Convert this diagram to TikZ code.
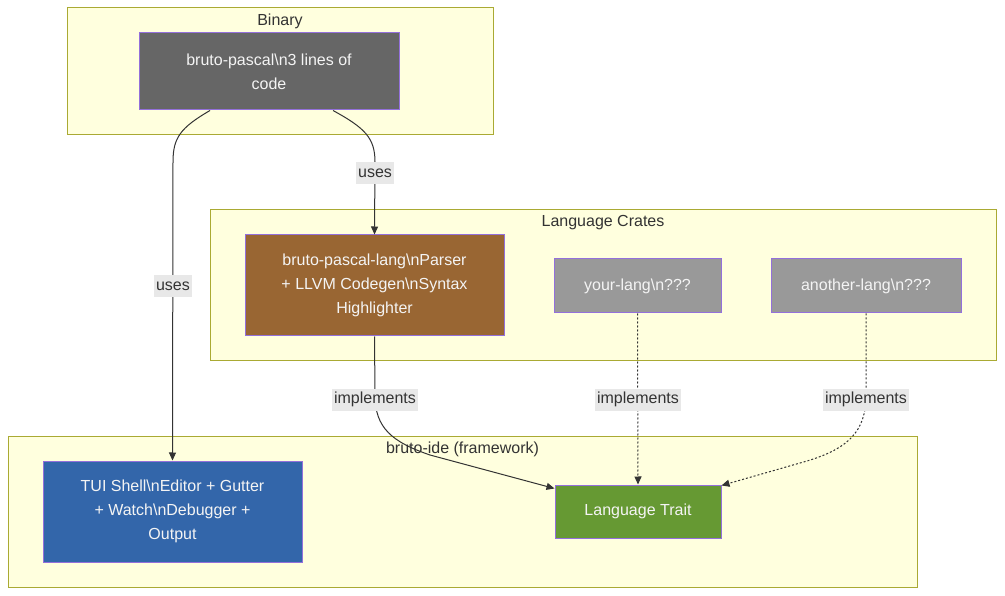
\documentclass[tikz,border=0pt]{standalone}
\usepackage{fontspec}
\setmainfont{Liberation Sans}
\usetikzlibrary{arrows.meta}
\definecolor{clfill}{HTML}{FFFFDE}
\definecolor{clline}{HTML}{AAAA33}
\definecolor{ndline}{HTML}{9370DB}
\definecolor{txt}{HTML}{333333}
\definecolor{lblbg}{HTML}{E8E8E8}
\definecolor{cbin}{HTML}{666666}
\definecolor{clang}{HTML}{996633}
\definecolor{cgrey}{HTML}{999999}
\definecolor{cblue}{HTML}{3366AA}
\definecolor{cgreen}{HTML}{669933}
\definecolor{ntxt}{HTML}{F4F4F4}
\begin{document}
\begin{tikzpicture}[x=1pt,y=-1pt,
  every node/.style={font=\fontsize{16}{24}\selectfont},
  cluster/.style={draw=clline, fill=clfill, line width=1pt, inner sep=0pt},
  clabel/.style={text=txt, inner sep=0pt},
  box/.style={draw=ndline, line width=1pt, text=ntxt, align=center, inner sep=0pt},
  elabel/.style={fill=lblbg, text=txt, inner sep=2pt, minimum height=22pt},
  edge/.style={draw=txt, line width=1pt, -{Triangle[length=8pt,width=7pt]}},
  dedge/.style={edge, dash pattern=on 2pt off 2pt}
]
\fill[white] (0,0) rectangle (1005,596);
\useasboundingbox (0,0) rectangle (1005,596);

% clusters
\node[cluster, minimum width=426pt, minimum height=127pt] (binary) at (280,71.5) {};
\node[clabel] (binlbl) at (280,21) {Binary};
\node[cluster, minimum width=786pt, minimum height=151pt] (crates) at (603,285.5) {};
\node[clabel] (crlbl) at (603,223) {Language Crates};
\node[cluster, minimum width=909pt, minimum height=151pt] (ide) at (462.5,511.5) {};
\node[clabel] (idelbl) at (462.5,449) {bruto-ide (framework)};

% nodes
\node[box, fill=cbin, minimum width=260pt, minimum height=77pt] (bp) at (269,71.5)
  {bruto-pascal\textbackslash n3 lines of\\code};
\node[box, fill=clang, minimum width=259pt, minimum height=101pt] (lang) at (374.5,285.5)
  {bruto-pascal-lang\textbackslash nParser\\+ LLVM Codegen\textbackslash nSyntax\\Highlighter};
\node[box, fill=cgrey, minimum width=167pt, minimum height=54pt] (yl) at (637.5,286)
  {your-lang\textbackslash n???};
\node[box, fill=cgrey, minimum width=190pt, minimum height=54pt] (al) at (866,286)
  {another-lang\textbackslash n???};
\node[box, fill=cblue, minimum width=259pt, minimum height=101pt] (tui) at (172.5,511.5)
  {TUI Shell\textbackslash nEditor + Gutter\\+ Watch\textbackslash nDebugger +\\Output};
\node[box, fill=cgreen, minimum width=166pt, minimum height=53pt] (trait) at (638,511.5)
  {Language Trait};

% edge coordinates
\coordinate (bpL) at ([xshift=-59pt]bp.south);
\coordinate (bpR) at ([xshift=64pt]bp.south);
\coordinate (trNW) at ([yshift=-4pt]trait.north west);
\coordinate (trNE) at ([yshift=-1pt]trait.north east);

% edges
\draw[edge] (bpL) .. controls (180,128) and (173,138) .. (173,162) -- (tui.north);
\draw[edge] (bpR) .. controls (365,128) and (375,138) .. (375,162) -- (lang.north);
\draw[edge] (lang.south) -- (375,395) .. controls (375,428) and (392,442) .. (430,455) -- (trNW);
\draw[dedge] (yl.south) -- (trait.north);
\draw[dedge] (al.south) -- (866,395) .. controls (866,432) and (848,450) .. (800,463) -- (trNE);

% edge labels
\node[elabel] (l1) at (173,286.5) {uses};
\node[elabel] (l2) at (375,173.5) {uses};
\node[elabel] (l3) at (375,399.5) {implements};
\node[elabel] (l4) at (638,399.5) {implements};
\node[elabel] (l5) at (866,399.5) {implements};
\end{tikzpicture}
\end{document}
